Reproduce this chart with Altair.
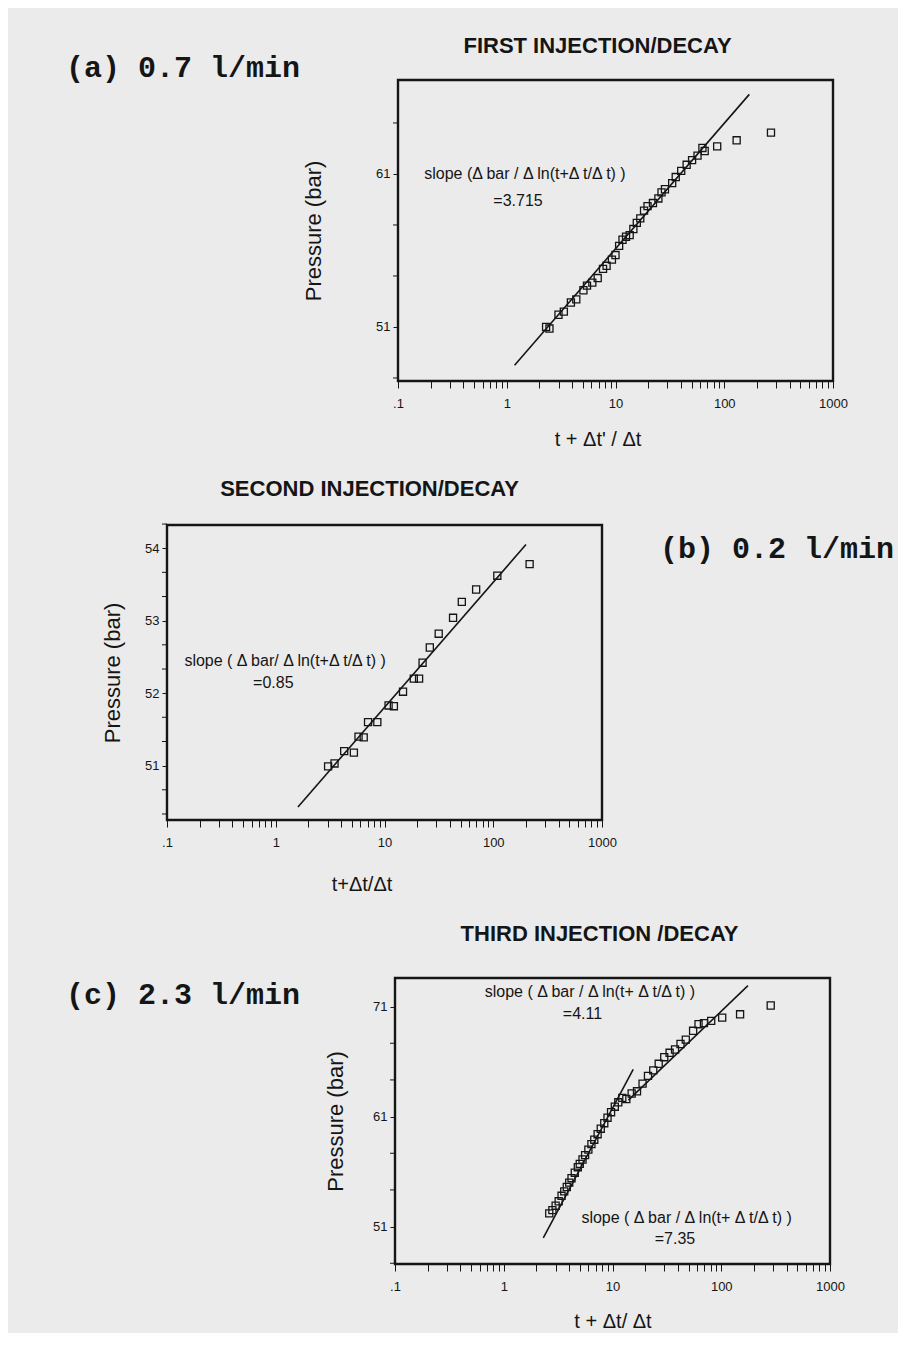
import altair as alt
import pandas as pd

# ---------------- data ----------------
# (a) first injection / decay, 0.7 l/min
A_X = [2.30, 2.47, 2.99, 3.35, 3.89, 4.36, 5.07, 5.47, 6.12, 6.86, 7.68, 8.28, 9.27, 10.0,
       10.8, 11.6, 12.5, 13.5, 14.6, 15.7, 16.9, 18.3, 19.7, 22.1, 24.8, 26.5, 28.5, 33.2,
       35.8, 40.2, 45.1, 50.6, 56.8, 63.0, 66.1, 86.1, 130, 269]
A_Y = [51.0, 50.9, 51.8, 52.0, 52.6, 52.8, 53.4, 53.7, 53.9, 54.2, 54.8, 55.0, 55.4, 55.7,
       56.3, 56.7, 56.9, 57.0, 57.4, 57.8, 58.1, 58.6, 58.9, 59.1, 59.4, 59.8, 60.0, 60.4,
       60.8, 61.2, 61.6, 61.9, 62.2, 62.7, 62.5, 62.8, 63.2, 63.7]
A_LINE_X = [1.18, 170]
A_LINE_Y = [48.5, 66.2]
A_ANN_TEXT = ["slope (\u0394 bar / \u0394 ln(t+\u0394 t/\u0394 t) )", "=3.715"]
A_ANN_X = [1.47, 1.27]
A_ANN_Y = [61.0, 59.25]

# (b) second injection / decay, 0.2 l/min
B_X = [3.03, 3.47, 4.26, 5.23, 5.77, 6.44, 7.06, 8.59, 10.9, 12.2, 14.8, 18.6, 20.8, 22.4,
       26.1, 31.5, 42.7, 51.4, 69.6, 109, 216]
B_Y = [50.99, 51.03, 51.20, 51.18, 51.40, 51.39, 51.60, 51.60, 51.83, 51.82, 52.02, 52.20,
       52.20, 52.42, 52.63, 52.82, 53.04, 53.26, 53.43, 53.62, 53.78]
B_LINE_X = [1.6, 200]
B_LINE_Y = [50.43, 54.05]
B_ANN_TEXT = ["slope ( \u0394 bar/ \u0394 ln(t+\u0394 t/\u0394 t) )", "=0.85"]
B_ANN_X = [1.22, 0.95]
B_ANN_Y = [52.45, 52.14]

# (c) third injection / decay, 2.3 l/min
C_X = [2.62, 2.80, 3.0, 3.2, 3.4, 3.6, 3.8, 4.0, 4.2, 4.5, 4.8, 5.0, 5.3, 5.6, 6.0, 6.4,
       6.8, 7.3, 7.8, 8.4, 9.0, 9.7, 10.5, 11.3, 12.3, 13.4, 15.0, 16.8, 18.9, 21.2, 23.7,
       26.6, 29.9, 33.5, 37.6, 42.2, 47.2, 55.1, 61.8, 69.3, 80.8, 102, 149, 285]
C_Y = [52.2, 52.5, 52.9, 53.3, 53.8, 54.2, 54.6, 55.0, 55.4, 55.9, 56.4, 56.7, 57.1, 57.5,
       58.0, 58.5, 58.9, 59.4, 59.9, 60.4, 60.9, 61.4, 61.9, 62.3, 62.7, 62.6, 63.1, 63.3,
       64.0, 64.7, 65.2, 65.8, 66.4, 66.8, 67.1, 67.6, 68.0, 68.8, 69.4, 69.5, 69.7, 70.0,
       70.3, 71.1]
C_LINE_SEG = ["steep", "steep", "late", "late"]
C_LINE_X = [2.31, 15.5, 14.0, 176]
C_LINE_Y = [49.97, 65.3, 62.5, 72.9]
C_ANN_TEXT = ["slope ( \u0394 bar / \u0394 ln(t+ \u0394 t/\u0394 t) )", "=4.11",
              "slope ( \u0394 bar / \u0394 ln(t+ \u0394 t/\u0394 t) )", "=7.35"]
C_ANN_X = [6.2, 5.3, 48.0, 37.5]
C_ANN_Y = [72.3, 70.3, 51.8, 49.9]

# axis ticks / labels
X_TICKS = [0.1, 0.2, 0.3, 0.4, 0.5, 0.6, 0.7, 0.8, 0.9,
           1, 2, 3, 4, 5, 6, 7, 8, 9,
           10, 20, 30, 40, 50, 60, 70, 80, 90,
           100, 200, 300, 400, 500, 600, 700, 800, 900, 1000]
A_Y_LABELS = [51, 61]
A_Y_MINOR = [47.667, 54.333, 57.667, 64.333]
B_Y_LABELS = [51, 52, 53, 54]
B_Y_MINOR = [50.333, 50.667, 51.333, 51.667, 52.333, 52.667, 53.333, 53.667, 54.333]
C_Y_LABELS = [51, 61, 71]
C_Y_MINOR = [47.667, 54.333, 57.667, 64.333, 67.667]

BG = "#ebebeb"
INK = "#151515"
SANS = "Liberation Sans, Arial, sans-serif"
MONO = "Liberation Mono, DejaVu Sans Mono, monospace"

X_LABEL_EXPR = ("datum.value == 0.1 ? '.1' : (datum.value == 1 || datum.value == 10 || "
                "datum.value == 100 || datum.value == 1000) ? format(datum.value, 'd') : ''")


def panel(xs, ys, lx, ly, lseg, ann_t, ann_x, ann_y, ydom, ylabels, yminor,
          title, title_dx, title_offset, xtitle, xtitle_dx, xtitle_pad, ytitle_pad, w, h):
    pts = pd.DataFrame({"x": xs, "y": ys})
    lines = pd.DataFrame({"x": lx, "y": ly, "seg": lseg})
    ann = pd.DataFrame({"t": ann_t, "x": ann_x, "y": ann_y})
    minor = pd.DataFrame({"y": yminor})
    xsc = alt.Scale(type="log", domain=[0.1, 1000], nice=False)
    ysc = alt.Scale(domain=ydom, nice=False, zero=False)
    xax = alt.Axis(values=X_TICKS, labelExpr=X_LABEL_EXPR, title=xtitle, grid=False,
                   tickSize=7, labelPadding=9, labelFontSize=13, titleFontSize=20,
                   titleFontWeight="normal", titlePadding=xtitle_pad, titleX=w / 2 + xtitle_dx,
                   domain=False, tickColor=INK, labelColor=INK, titleColor=INK,
                   labelFont=SANS, titleFont=SANS, labelFlush=False, labelOverlap=False)
    yax = alt.Axis(values=ylabels, format="d", title="Pressure (bar)",
                   grid=False, tickSize=5, labelPadding=3, labelFontSize=13, titleFontSize=22,
                   titleFontWeight="normal", titlePadding=ytitle_pad, domain=False,
                   tickColor=INK, labelColor=INK, titleColor=INK, labelFont=SANS,
                   titleFont=SANS, labelOverlap=False)
    p = alt.Chart(pts).mark_point(shape="square", filled=False, size=50, strokeWidth=1.3,
                                  color=INK, opacity=1).encode(
        x=alt.X("x:Q", scale=xsc, axis=xax),
        y=alt.Y("y:Q", scale=ysc, axis=yax))
    ln = alt.Chart(lines).mark_line(color=INK, strokeWidth=1.6).encode(
        x=alt.X("x:Q", scale=xsc), y=alt.Y("y:Q", scale=ysc), detail="seg:N")
    tk = alt.Chart(minor).mark_rule(color=INK, strokeWidth=1).encode(
        y=alt.Y("y:Q", scale=ysc), x=alt.value(-5), x2=alt.value(0))
    tx = alt.Chart(ann).mark_text(font=SANS, fontSize=16, color=INK, align="center",
                                  baseline="middle").encode(
        x=alt.X("x:Q", scale=xsc), y=alt.Y("y:Q", scale=ysc), text="t:N")
    return alt.layer(p, ln, tk, tx).properties(
        width=w, height=h,
        title=alt.TitleParams(title, font=SANS, fontSize=22, fontWeight="bold", color=INK,
                              anchor="middle", dx=title_dx, offset=title_offset),
        view=alt.ViewBackground(stroke=INK, strokeWidth=2.4, fill=BG))


def label_box(text, w, h, x0, y0):
    df = pd.DataFrame({"t": [text]})
    return alt.Chart(df).mark_text(font=MONO, fontWeight="bold", fontSize=30, color=INK,
                                   align="left", baseline="middle").encode(
        text="t:N", x=alt.value(x0), y=alt.value(y0)).properties(
        width=w, height=h, view=alt.ViewBackground(strokeOpacity=0, fill=BG))


W = 435
pa = panel(A_X, A_Y, A_LINE_X, A_LINE_Y, ["l", "l"], A_ANN_TEXT, A_ANN_X, A_ANN_Y,
           [47.47, 67.14], A_Y_LABELS, A_Y_MINOR, "FIRST INJECTION/DECAY", -18, 22,
           "t + \u0394t' / \u0394t", -18, 19, 50, W, 301)
pb = panel(B_X, B_Y, B_LINE_X, B_LINE_Y, ["l", "l"], B_ANN_TEXT, B_ANN_X, B_ANN_Y,
           [50.25, 54.32], B_Y_LABELS, B_Y_MINOR, "SECOND INJECTION/DECAY", -15, 23,
           "t+\u0394t/\u0394t", -23, 25, 20, W, 295)
pc = panel(C_X, C_Y, C_LINE_X, C_LINE_Y, C_LINE_SEG, C_ANN_TEXT, C_ANN_X, C_ANN_Y,
           [47.6, 73.6], C_Y_LABELS, C_Y_MINOR, "THIRD INJECTION /DECAY", -13, 32,
           "t + \u0394t/ \u0394t", 0, 18, 25, W, 286)

row1 = alt.hconcat(label_box("(a) 0.7 l/min", 290, 301, 58, -12), pa, spacing=0)
row2 = alt.hconcat(label_box("", 92, 295, 0, 0), pb,
                   label_box("(b) 0.2 l/min", 280, 295, 42, 24), spacing=0)
row3 = alt.hconcat(label_box("(c) 2.3 l/min", 315, 286, 58, 17), pc, spacing=0)

chart = alt.vconcat(row1, row2, row3, spacing=25).properties(
    background=BG, padding={"left": 0, "top": 25, "right": 0, "bottom": 0}
).configure_view(stroke=INK)

chart.save("out.html", embed_options={"renderer": "svg", "actions": False})
